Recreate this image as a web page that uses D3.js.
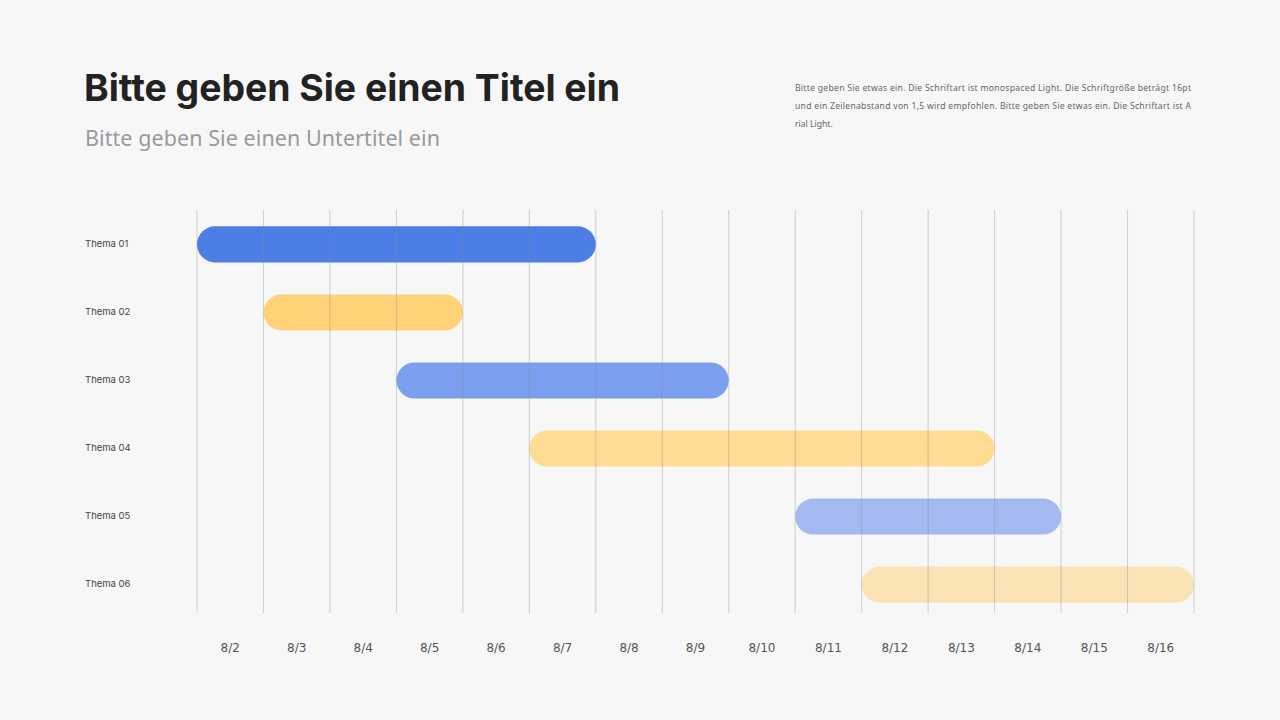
<!DOCTYPE html>
<html>
<head>
<meta charset="utf-8">
<script src="https://cdn.jsdelivr.net/npm/d3@7"></script>
<style>
  body { margin: 0; background: #f7f7f8; }
  svg text { font-family: Inter, "Noto Sans", sans-serif; }
</style>
</head>
<body>
<script>
const dates = ["8/2", "8/3", "8/4", "8/5", "8/6", "8/7", "8/8", "8/9",
  "8/10", "8/11", "8/12", "8/13", "8/14", "8/15", "8/16"];
const topics = ["Thema 01", "Thema 02", "Thema 03", "Thema 04", "Thema 05", "Thema 06"];
// start / end as column index (end exclusive)
const starts = [0, 1, 3, 5, 9, 10];
const ends = [6, 4, 8, 12, 13, 15];
const colors = ["#4d7ee6", "#ffd278", "#7aa0ee", "#fedc93", "#a3b9f0", "#fae4b6"];

const width = 1280, height = 720;

const svg = d3.select("body").append("svg")
  .attr("width", width)
  .attr("height", height);

svg.append("rect").attr("width", width).attr("height", height).attr("fill", "#f7f7f8");

svg.append("text")
  .attr("x", 84).attr("y", 101)
  .attr("font-size", 37.4).attr("font-weight", 700)
  .attr("fill", "#222")
  .attr("textLength", 536)
  .text("Bitte geben Sie einen Titel ein");

svg.append("text")
  .attr("x", 85).attr("y", 146)
  .attr("font-size", 21.5)
  .attr("fill", "#9a9a9a")
  .style("font-family", "'Noto Sans', sans-serif")
  .attr("textLength", 355)
  .text("Bitte geben Sie einen Untertitel ein");

const para = [
  "Bitte geben Sie etwas ein. Die Schriftart ist monospaced Light. Die Schriftgröße beträgt 16pt",
  "und ein Zeilenabstand von 1,5 wird empfohlen. Bitte geben Sie etwas ein. Die Schriftart ist A",
  "rial Light."
];
svg.append("g").selectAll("text")
  .data(para)
  .enter().append("text")
  .attr("x", 795)
  .attr("y", (d, i) => 91 + i * 18)
  .attr("font-size", 8.6)
  .attr("fill", "#666")
  .style("font-family", "'Noto Sans', sans-serif")
  .attr("textLength", (d, i) => i < 2 ? 396 : null)
  .text(d => d);

const x = d3.scaleLinear().domain([0, dates.length]).range([197, 1194]);
const y = d3.scaleBand().domain(topics).range([210, 619]).paddingInner(0.47).paddingOuter(0.24);

// bars
svg.append("g").selectAll("rect")
  .data(topics)
  .enter().append("rect")
  .attr("x", (d, i) => x(starts[i]))
  .attr("width", (d, i) => x(ends[i]) - x(starts[i]))
  .attr("y", d => y(d))
  .attr("height", y.bandwidth())
  .attr("rx", y.bandwidth() / 2)
  .attr("fill", (d, i) => colors[i]);

// grid lines
svg.append("g").selectAll("line")
  .data(d3.range(dates.length + 1))
  .enter().append("line")
  .attr("x1", d => x(d)).attr("x2", d => x(d))
  .attr("y1", 210).attr("y2", 613)
  .attr("stroke", "#888")
  .attr("stroke-opacity", 0.38)
  .attr("stroke-width", 1);

// topic labels
svg.append("g").selectAll("text")
  .data(topics)
  .enter().append("text")
  .attr("x", 85)
  .attr("y", d => y(d) + y.bandwidth() / 2 - 1)
  .attr("dy", "0.35em")
  .attr("font-size", 9.5)
  .attr("fill", "#444")
  .text(d => d);

// date labels
svg.append("g").selectAll("text")
  .data(dates)
  .enter().append("text")
  .attr("x", (d, i) => x(i + 0.5))
  .attr("y", 652)
  .attr("text-anchor", "middle")
  .attr("font-size", 12)
  .attr("fill", "#555")
  .style("font-family", "'DejaVu Sans', sans-serif")
  .text(d => d);
</script>
</body>
</html>
